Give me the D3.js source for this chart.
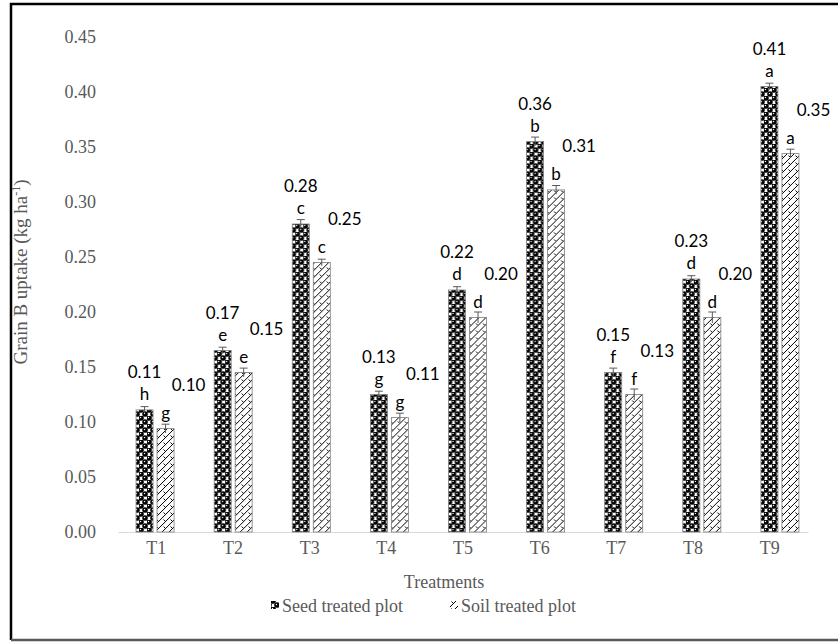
<!DOCTYPE html>
<html>
<head>
<meta charset="utf-8">
<script src="https://cdn.jsdelivr.net/npm/d3@7"></script>
<style>
  body { margin: 0; background: #fff; }
  .tick text { font-family: "Liberation Serif", "Times New Roman", serif; fill: #595959; font-size: 18px; }
  .lbl { font-family: Lato, "Open Sans", sans-serif; font-size: 17px; fill: #000; }
</style>
</head>
<body>
<div id="chart"></div>
<script>
// chart values
var treatments = ['T1', 'T2', 'T3', 'T4', 'T5', 'T6', 'T7', 'T8', 'T9'];
var seedValues = [0.111, 0.165, 0.280, 0.125, 0.220, 0.355, 0.145, 0.230, 0.405];
var soilValues = [0.094, 0.145, 0.245, 0.104, 0.195, 0.311, 0.125, 0.195, 0.344];
var seedErr = [0.003, 0.003, 0.004, 0.003, 0.003, 0.004, 0.004, 0.003, 0.003];
var soilErr = [0.004, 0.004, 0.003, 0.004, 0.005, 0.004, 0.005, 0.005, 0.004];
var seedLabels = ['0.11', '0.17', '0.28', '0.13', '0.22', '0.36', '0.15', '0.23', '0.41'];
var soilLabels = ['0.10', '0.15', '0.25', '0.11', '0.20', '0.31', '0.13', '0.20', '0.35'];
var seedLetters = ['h', 'e', 'c', 'g', 'd', 'b', 'f', 'd', 'a'];
var soilLetters = ['g', 'e', 'c', 'g', 'd', 'b', 'f', 'd', 'a'];
var yTicks = [0, 0.05, 0.10, 0.15, 0.20, 0.25, 0.30, 0.35, 0.40, 0.45];

var W = 838, H = 642;
var margin = { top: 37, right: 19, bottom: 110, left: 116 };

var svg = d3.select('#chart').append('svg')
  .attr('width', W)
  .attr('height', H);

// patterns
var defs = svg.append('defs');
var seedPat = defs.append('pattern')
  .attr('id', 'seedPat')
  .attr('patternUnits', 'userSpaceOnUse')
  .attr('width', 8).attr('height', 8);
seedPat.append('rect').attr('width', 8).attr('height', 8).attr('fill', '#fff');
[[2, 2], [6, 6], [6, -2], [-2, 6], [10, 6], [6, 10]].forEach(function(p) {
  seedPat.append('circle').attr('cx', p[0]).attr('cy', p[1]).attr('r', 2.8).attr('fill', '#000');
});
seedPat.append('circle').attr('cx', 1.5).attr('cy', 1.5).attr('r', 0.7).attr('fill', '#fff');
seedPat.append('circle').attr('cx', 5.5).attr('cy', 5.5).attr('r', 0.7).attr('fill', '#fff');

var soilPat = defs.append('pattern')
  .attr('id', 'soilPat')
  .attr('patternUnits', 'userSpaceOnUse')
  .attr('width', 7).attr('height', 7);
soilPat.append('rect').attr('width', 7).attr('height', 7).attr('fill', '#fff');
soilPat.append('path')
  .attr('d', 'M0,7 L7,0 M-1,1 L1,-1 M6,8 L8,6 M1.5,1.5 L4,4')
  .attr('stroke', '#000').attr('stroke-width', 1).attr('fill', 'none');

// frame
svg.append('path')
  .attr('d', 'M11,640 V4 H' + (W + 5))
  .attr('fill', 'none')
  .attr('stroke', '#000')
  .attr('stroke-width', 2.5);
svg.append('path')
  .attr('d', 'M11,640 H' + (W + 5))
  .attr('fill', 'none')
  .attr('stroke', '#595959')
  .attr('stroke-width', 2.5);

// bars scale
var x = d3.scaleBand()
  .domain(treatments)
  .range([margin.left, W - margin.right])
  .paddingInner(0).paddingOuter(0);

// category label scale (labels sit slightly tighter than the bars in the source)
var xTick = d3.scaleBand()
  .domain(treatments)
  .range([118, 808])
  .paddingInner(0).paddingOuter(0);

var y = d3.scaleLinear()
  .domain([0, 0.45])
  .range([532, margin.top]);

var barW = 17, gap = 4;

// y axis
var yAxis = svg.append('g')
  .attr('transform', 'translate(96,0)')
  .call(d3.axisLeft(y).tickValues(yTicks).tickFormat(d3.format('.2f')).tickSize(0).tickPadding(0));
yAxis.select('.domain').remove();

// x axis
var xAxis = svg.append('g')
  .attr('transform', 'translate(0,' + y(0) + ')')
  .call(d3.axisBottom(xTick).tickSize(0).tickPadding(9));
xAxis.select('.domain').attr('stroke', '#d9d9d9').attr('stroke-width', 1.2);

// bars
var groups = svg.selectAll('.grp')
  .data(treatments)
  .enter().append('g')
    .attr('class', 'grp')
    .attr('transform', function(d) { return 'translate(' + (x(d) + x.bandwidth() / 2) + ',0)'; });

function drawSeries(values, errs, labels, letters, fill, x0, labelDx, labelUp) {
  groups.append('rect')
    .attr('x', x0)
    .attr('y', function(d, i) { return y(values[i]); })
    .attr('width', barW)
    .attr('height', function(d, i) { return y(0) - y(values[i]); })
    .attr('fill', fill)
    .attr('stroke', '#7f7f7f')
    .attr('stroke-width', 0.8);

  var cx = x0 + barW / 2;
  // error bars
  groups.append('path')
    .attr('d', function(d, i) {
      var t = y(values[i] + errs[i]), b = y(values[i] - errs[i]);
      return 'M' + cx + ',' + b + 'V' + t + 'M' + (cx - 4) + ',' + t + 'H' + (cx + 4);
    })
    .attr('stroke', '#595959')
    .attr('stroke-width', 1)
    .attr('fill', 'none');

  groups.append('text')
    .attr('class', 'lbl')
    .attr('x', cx)
    .attr('y', function(d, i) { return y(values[i]) - 10; })
    .attr('text-anchor', 'middle')
    .text(function(d, i) { return letters[i]; });

  groups.append('text')
    .attr('class', 'lbl')
    .attr('x', cx + labelDx)
    .attr('y', function(d, i) { return y(values[i]) - labelUp; })
    .attr('text-anchor', 'middle')
    .text(function(d, i) { return labels[i]; });
}

drawSeries(seedValues, seedErr, seedLabels, seedLetters, 'url(#seedPat)', -barW - gap / 2, 0, 32);
drawSeries(soilValues, soilErr, soilLabels, soilLetters, 'url(#soilPat)', gap / 2, 23, 38);

// axis titles
svg.append('text')
  .attr('transform', 'translate(27,' + 272 + ') rotate(-90)')
  .attr('text-anchor', 'middle')
  .style('font-family', '"Liberation Serif", serif')
  .style('font-size', '19px')
  .style('fill', '#595959')
  .html('Grain B uptake (kg ha<tspan dy="-7" font-size="12px">-1</tspan><tspan dy="7">)</tspan>');

svg.append('text')
  .attr('x', 444).attr('y', 588)
  .attr('text-anchor', 'middle')
  .style('font-family', '"Liberation Serif", serif')
  .style('font-size', '18px')
  .style('fill', '#595959')
  .text('Treatments');

// legend
var legendItems = [
  { name: 'Seed treated plot', fill: 'url(#seedPat)', x: 271 },
  { name: 'Soil treated plot', fill: 'url(#soilPat)', x: 450 }
];
var legend = svg.selectAll('.legend')
  .data(legendItems)
  .enter().append('g')
    .attr('class', 'legend')
    .attr('transform', function(d) { return 'translate(' + d.x + ',607)'; });
legend.append('rect')
  .attr('x', 0).attr('y', -6)
  .attr('width', 8).attr('height', 8)
  .attr('fill', function(d) { return d.fill; });
legend.append('text')
  .attr('x', 11).attr('y', 0)
  .attr('dy', '0.3em')
  .style('font-family', '"Liberation Serif", serif')
  .style('font-size', '18px')
  .style('fill', '#595959')
  .text(function(d) { return d.name; });
</script>
</body>
</html>
